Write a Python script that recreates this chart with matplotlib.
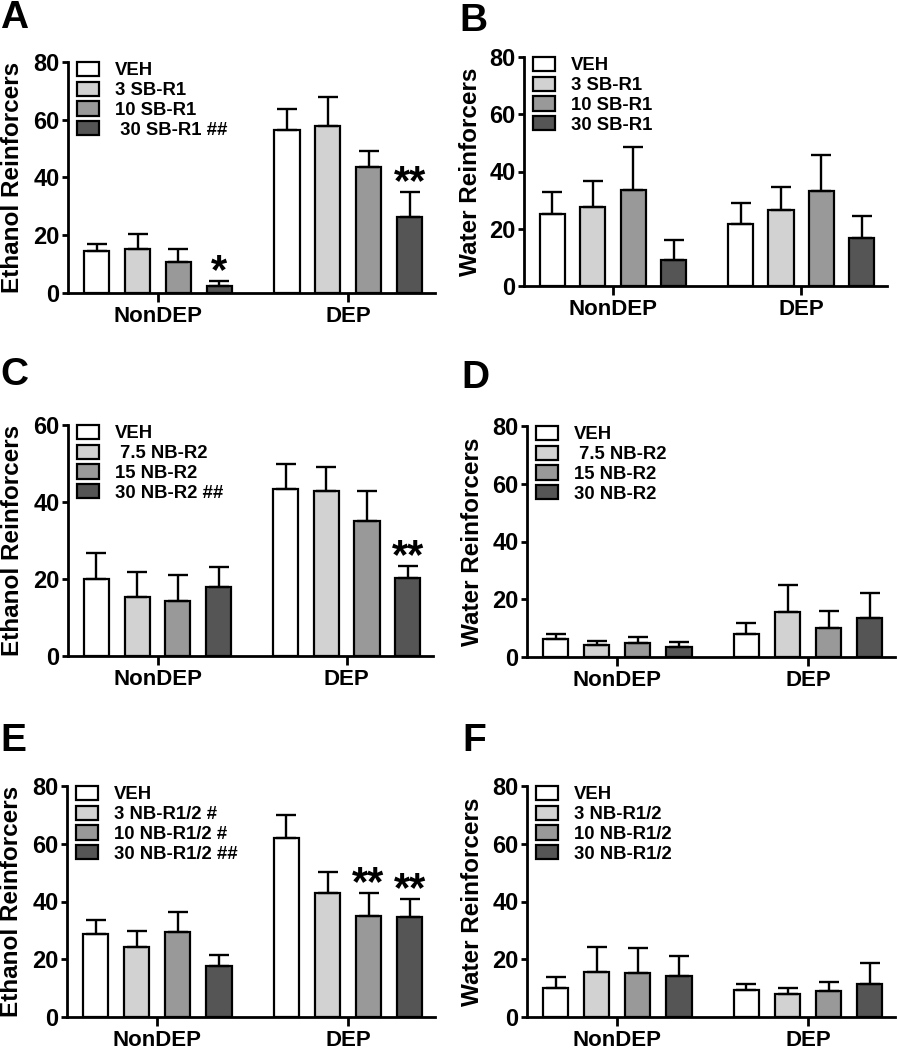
import matplotlib
matplotlib.use('Agg')
import matplotlib.pyplot as plt
import numpy as np

plt.rcParams['font.family'] = ['Liberation Sans', 'DejaVu Sans']
plt.rcParams['font.weight'] = 'bold'

groups = ['NonDEP', 'DEP']
colors = ['white', '#d2d2d2', '#999999', '#555555']

# panel A - ethanol, SB-R1
labels_A = ['VEH', '3 SB-R1', '10 SB-R1', ' 30 SB-R1 ##']
mean_A = [14.4, 15.2, 10.6, 2.5, 56.4, 57.7, 43.5, 26.4]
sem_A = [2.5, 5.1, 4.7, 1.5, 7.2, 10.1, 5.6, 8.5]
stars_A = ['', '', '', '*', '', '', '', '**']

# panel B - water, SB-R1
labels_B = ['VEH', '3 SB-R1', '10 SB-R1', '30 SB-R1']
mean_B = [25.2, 27.5, 33.6, 9.0, 21.6, 26.6, 33.2, 16.8]
sem_B = [7.5, 9.1, 14.9, 6.9, 7.3, 7.9, 12.7, 7.5]
stars_B = [''] * 8

# panel C - ethanol, NB-R2
labels_C = ['VEH', ' 7.5 NB-R2', '15 NB-R2', '30 NB-R2 ##']
mean_C = [20.1, 15.2, 14.2, 18.0, 43.3, 42.8, 35.1, 20.3]
sem_C = [6.6, 6.7, 6.9, 5.2, 6.7, 6.3, 7.8, 3.2]
stars_C = ['', '', '', '', '', '', '', '**']

# panel D - water, NB-R2
labels_D = ['VEH', ' 7.5 NB-R2', '15 NB-R2', '30 NB-R2']
mean_D = [6.1, 4.0, 4.9, 3.4, 8.0, 15.5, 10.2, 13.6]
sem_D = [2.0, 1.7, 1.9, 1.7, 3.8, 9.6, 5.9, 8.7]
stars_D = [''] * 8

# panel E - ethanol, NB-R1/2
labels_E = ['VEH', '3 NB-R1/2 #', '10 NB-R1/2 #', '30 NB-R1/2 ##']
mean_E = [28.9, 24.2, 29.5, 17.6, 62.1, 42.8, 35.0, 34.8]
sem_E = [4.6, 5.5, 6.7, 3.7, 7.8, 7.5, 8.1, 6.2]
stars_E = ['', '', '', '', '', '', '**', '**']

# panel F - water, NB-R1/2
labels_F = ['VEH', '3 NB-R1/2', '10 NB-R1/2', '30 NB-R1/2']
mean_F = [10.1, 15.6, 15.3, 14.2, 9.5, 8.1, 9.1, 11.6]
sem_F = [3.8, 8.6, 8.7, 6.8, 1.9, 2.1, 3.0, 7.1]
stars_F = [''] * 8

W, H = 897, 1050
fig = plt.figure(figsize=(W / 100, H / 100), dpi=100)


def px_axes(left, right, top, bottom):
    return fig.add_axes([left / W, 1 - bottom / H, (right - left) / W, (bottom - top) / H])


def panel(ax, ylabel, ymax, labels, means, sems, stars, lx):
    x = np.array([0, 1, 2, 3, 4.65, 5.65, 6.65, 7.65])
    cols = colors * 2
    bars = ax.bar(x, means, width=0.62, color=cols, edgecolor='black', linewidth=1.6, zorder=2)
    ax.errorbar(x, means, yerr=[np.zeros(8), sems], fmt='none', ecolor='black',
                elinewidth=1.7, capsize=7, capthick=1.7, zorder=3)
    for xi, m, s, st in zip(x, means, sems, stars):
        if st:
            ax.annotate(st, (xi, m + s), xytext=(0, -8), textcoords='offset points',
                        ha='center', va='bottom', fontsize=30, fontweight='bold')
    ax.set_xlim(-0.7, 8.27)
    ax.set_ylim(0, ymax)
    ax.set_yticks(np.arange(0, ymax + 1, 20))
    ax.set_xticks([1.5, 6.15])
    ax.set_xticklabels(groups)
    for sp in ['top', 'right']:
        ax.spines[sp].set_visible(False)
    for sp in ['left', 'bottom']:
        ax.spines[sp].set_linewidth(2)
    ax.tick_params(axis='y', length=4.5, width=2, pad=1.5, labelsize=17)
    ax.tick_params(axis='x', length=6.5, width=2, pad=3, labelsize=16)
    ax.set_ylabel(ylabel, fontsize=17.5, fontweight='bold')
    ax.yaxis.set_label_coords(lx, 0.5)
    leg = ax.legend(bars[:4], labels, loc='upper left', bbox_to_anchor=(0.025, 1.0),
                    frameon=False, fontsize=13.3, handlelength=1.2, handleheight=0.8,
                    handletextpad=0.85, labelspacing=0.12, borderpad=0, borderaxespad=0)
    for t in leg.get_texts():
        t.set_fontweight('bold')
    return ax


axA = px_axes(68, 435, 62, 293)
panel(axA, 'Ethanol Reinforcers', 80, labels_A, mean_A, sem_A, stars_A, -0.12)
axB = px_axes(524, 887, 57, 286)
panel(axB, 'Water Reinforcers', 80, labels_B, mean_B, sem_B, stars_B, -0.116)
axC = px_axes(68, 433, 425, 656)
panel(axC, 'Ethanol Reinforcers', 60, labels_C, mean_C, sem_C, stars_C, -0.12)
axD = px_axes(527, 895, 426, 657)
panel(axD, 'Water Reinforcers', 80, labels_D, mean_D, sem_D, stars_D, -0.116)
axE = px_axes(67, 435, 786, 1017)
panel(axE, 'Ethanol Reinforcers', 80, labels_E, mean_E, sem_E, stars_E, -0.12)
axF = px_axes(527, 895, 786, 1017)
panel(axF, 'Water Reinforcers', 80, labels_F, mean_F, sem_F, stars_F, -0.116)

# panel letters
for letter, lx, ty in [('A', 0, 0), ('B', 459, 3), ('C', 0, 357), ('D', 461, 360),
                       ('E', 0, 723), ('F', 462, 723)]:
    fig.text(lx / W, 1 - ty / H, letter, fontsize=28, fontweight='bold', ha='left', va='top')

fig.savefig('out.png', dpi=100)
